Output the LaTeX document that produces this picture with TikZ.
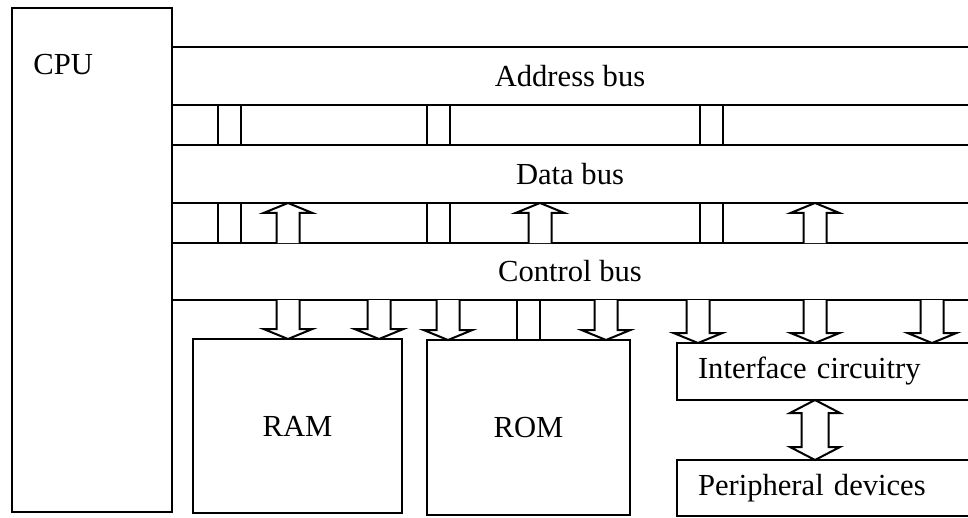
\documentclass[tikz,border=0pt]{standalone}
\usepackage{fontspec}
\setmainfont{Liberation Serif}
\usetikzlibrary{positioning, calc}

% open block arrow: #1 head offset, #2 foot, #3 tip
\newcommand{\busarrow}[3][-10]{%
  \draw[blk] ($(#2)+(-11.5,0)$) -- ($(#3)+(-11.5,#1)$) -- ($(#3)+(-24.5,#1)$)
    -- (#3) -- ($(#3)+(24.5,#1)$) -- ($(#3)+(11.5,#1)$) -- ($(#2)+(11.5,0)$);}
% pair of lines joining two buses
\newcommand{\busstub}[3]{%
  \draw[bus] (#1,0 |- #2) -- (#1,0 |- #3) (#1+23,0 |- #2) -- (#1+23,0 |- #3);}

\begin{document}
\begin{tikzpicture}[
  x=0.5pt, y=-0.5pt,
  font=\fontsize{15.3pt}{18pt}\selectfont,
  bus/.style={line width=1pt},
  box/.style={rectangle, draw, line width=1pt, inner sep=0pt, outer sep=0pt},
  band/.style={rectangle, inner sep=0pt, outer sep=0pt, minimum width=398pt},
  openbox/.style={rectangle, inner sep=0pt, inner xsep=10.5pt, outer sep=0pt,
    text width=124.5pt, align=left, minimum width=145.5pt},
  blk/.style={line width=1pt, fill=white, line join=miter}
]
  \useasboundingbox (0,0) rectangle (968,518);

  \node[box, anchor=north west, minimum width=80pt, minimum height=252pt] (cpu) at (12,8) {};
  \node[anchor=west, inner sep=0pt] (cpulbl) at (33,65) {CPU};

  \node[band, minimum height=29pt] (ab) at (570,76) {Address bus};
  \node[band, minimum height=29pt] (db) at (570,174) {Data bus};
  \node[band, minimum height=28.5pt] (cb) at (570,271.5) {Control bus};
  \foreach \b in {ab, db, cb}
    \draw[bus] (\b.north west) -- (\b.north east) (\b.south west) -- (\b.south east);

  \node[box, anchor=north west, minimum width=104.5pt, minimum height=87pt] (ram) at (193,339) {RAM};
  \node[box, anchor=north west, minimum width=101.5pt, minimum height=87.5pt] (rom) at (427,340) {ROM};
  \node[openbox, anchor=north west, minimum height=28.5pt] (intf) at (677,343) {Interface circuitry};
  \node[openbox, anchor=north west, minimum height=28pt] (periph) at (677,460) {Peripheral devices};
  \foreach \b in {intf, periph}
    \draw[bus] (\b.north east) -- (\b.north west) -- (\b.south west) -- (\b.south east);

  % links between the buses
  \foreach \sx in {218,427,700} {
    \busstub{\sx}{ab.south}{db.north}
    \busstub{\sx}{db.south}{cb.north}
  }
  \busstub{517}{cb.south}{rom.north}

  % data into the data bus
  \foreach \ax in {288,540,815}
    \busarrow[10]{\ax,0 |- cb.north}{\ax,0 |- db.south};

  % control lines down to the units
  \foreach \ax in {288,379}
    \busarrow{\ax,0 |- cb.south}{\ax,0 |- ram.north};
  \foreach \ax in {448,606}
    \busarrow{\ax,0 |- cb.south}{\ax,0 |- rom.north};
  \foreach \ax in {698,815,932}
    \busarrow{\ax,0 |- cb.south}{\ax,0 |- intf.north};

  % two-way link to the devices
  \coordinate (dtop) at (815,0 |- intf.south);
  \coordinate (dbot) at (815,0 |- periph.north);
  \draw[blk] (dtop) -- ++(25,13) -- ++(-11.5,0) -- ($(dbot)+(13.5,-13)$) -- ++(11.5,0)
    -- (dbot) -- ++(-25,-13) -- ++(11.5,0) -- ($(dtop)+(-13.5,13)$) -- ++(-11.5,0) -- cycle;
\end{tikzpicture}
\end{document}
